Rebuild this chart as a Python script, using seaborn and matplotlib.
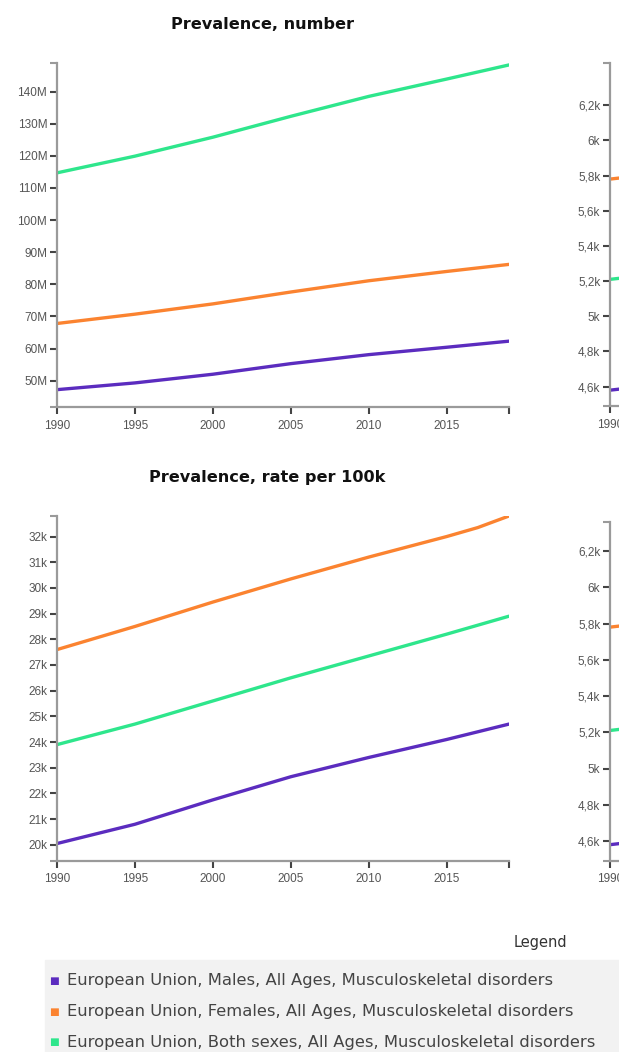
import pandas as pd
import numpy as np
import matplotlib
matplotlib.use("Agg")
import matplotlib.pyplot as plt
import seaborn as sns
from matplotlib.ticker import FuncFormatter

years = [1990, 1995, 2000, 2005, 2010, 2015, 2019]
series_names = ["European Union, Males, All Ages, Musculoskeletal disorders",
                "European Union, Females, All Ages, Musculoskeletal disorders",
                "European Union, Both sexes, All Ages, Musculoskeletal disorders"]
colors = ["#5b2cbf", "#fb8330", "#2ee68c"]

# Prevalence, number (millions)
number_males = [47.2, 49.3, 52.0, 55.3, 58.1, 60.4, 62.3]
number_females = [67.8, 70.7, 73.9, 77.6, 81.1, 84.0, 86.2]
number_both = [114.7, 119.9, 125.8, 132.3, 138.5, 143.9, 148.3]

# Prevalence, rate per 100k (thousands)
rate_years = [1990, 1995, 2000, 2005, 2010, 2015, 2017, 2019]
rate_males = [20.05, 20.8, 21.75, 22.65, 23.4, 24.1, 24.4, 24.7]
rate_females = [27.6, 28.5, 29.45, 30.35, 31.2, 32.0, 32.35, 32.8]
rate_both = [23.9, 24.7, 25.6, 26.5, 27.35, 28.2, 28.55, 28.9]

# third (cut off) chart, only the 1990 start is visible
side_years = [1990, 1991]
side_males = [4.58, 4.59]
side_females = [5.78, 5.79]
side_both = [5.21, 5.22]


def long_df(xs, vals):
    rows = []
    for name, v in zip(series_names, vals):
        for x, y in zip(xs, v):
            rows.append({"year": x, "value": y, "series": name})
    return pd.DataFrame(rows)


df_num = long_df(years, [number_males, number_females, number_both])
df_rate = long_df(rate_years, [rate_males, rate_females, rate_both])
df_side = long_df(side_years, [side_males, side_females, side_both])

sns.set_style("white")
plt.rcParams['font.family'] = ['Liberation Sans', 'DejaVu Sans']

W, H = 619, 1052
fig = plt.figure(figsize=(W / 100, H / 100), dpi=100)


def px_axes(left, top, right, bottom):
    return fig.add_axes([left / W, 1 - bottom / H, (right - left) / W, (bottom - top) / H])


def style_axis(ax, xlim, ylim, yticks, fmt, xticks):
    ax.set_xlim(*xlim)
    ax.set_ylim(*ylim)
    ax.set_yticks(yticks)
    ax.set_xticks(xticks)
    ax.set_xticklabels([str(t) for t in xticks])
    ax.yaxis.set_major_formatter(FuncFormatter(fmt))
    ax.set_yticks([ylim[0], ylim[1]], minor=True)
    ax.set_xticks([xlim[1]], minor=True)
    for s in ["top", "right"]:
        ax.spines[s].set_visible(False)
    for s in ["left", "bottom"]:
        ax.spines[s].set_color("#9a9a9a")
        ax.spines[s].set_linewidth(1.6)
    ax.tick_params(which="both", left=True, bottom=True, length=5, width=1.5,
                   color="#444444", labelsize=8.5, labelcolor="#555555", pad=2,
                   direction="out")
    ax.tick_params(axis="x", which="both", pad=4)
    ax.tick_params(axis="y", which="minor", color="#9a9a9a")
    ax.set_xlabel("")
    ax.set_ylabel("")
    ax.set_facecolor("white")


fmt_m = lambda v, p: f"{int(round(v))}M"
fmt_k = lambda v, p: f"{int(round(v))}k"
fmt_side = lambda v, p: (f"{v:.1f}".replace(".0", "").replace(".", ",") + "k")

# top main chart
ax1 = px_axes(57, 63, 509, 407)
sns.lineplot(data=df_num, x="year", y="value", hue="series", palette=colors,
             linewidth=2.4, ax=ax1, legend=False)
style_axis(ax1, (1990, 2019), (41.8, 148.9), list(range(50, 141, 10)), fmt_m,
           [1990, 1995, 2000, 2005, 2010, 2015])
ax1.set_title("Prevalence, number", fontsize=11.6, fontweight="bold",
              family="DejaVu Sans", x=0.455, y=1.075, color="#111111")

# bottom main chart
ax2 = px_axes(57, 516, 509, 861)
sns.lineplot(data=df_rate, x="year", y="value", hue="series", palette=colors,
             linewidth=2.4, ax=ax2, legend=False)
style_axis(ax2, (1990, 2019), (19.37, 32.8), list(range(20, 33)), fmt_k,
           [1990, 1995, 2000, 2005, 2010, 2015])
ax2.set_title("Prevalence, rate per 100k", fontsize=11.6, fontweight="bold",
              family="DejaVu Sans", x=0.465, y=1.075, color="#111111")

# cut-off charts on the right
side_ticks = [4.6, 4.8, 5.0, 5.2, 5.4, 5.6, 5.8, 6.0, 6.2]
ax3 = px_axes(610, 63, 1062, 406)
sns.lineplot(data=df_side, x="year", y="value", hue="series", palette=colors,
             linewidth=2.4, ax=ax3, legend=False)
style_axis(ax3, (1990, 2019), (4.49, 6.44), side_ticks, fmt_side, [1990, 1995])

ax4 = px_axes(610, 522, 1062, 861)
sns.lineplot(data=df_side, x="year", y="value", hue="series", palette=colors,
             linewidth=2.4, ax=ax4, legend=False)
style_axis(ax4, (1990, 2019), (4.49, 6.36), side_ticks, fmt_side, [1990, 1995])

# legend block
fig.text(540 / W, 1 - 943 / H, "Legend", ha="center", va="center", fontsize=10.5,
         color="#333333", family="DejaVu Sans")
fig.patches.append(plt.Rectangle((45 / W, 0), 1 - 45 / W, 1 - 960 / H,
                                 transform=fig.transFigure, color="#f2f2f2", zorder=0))
for i, (name, c) in enumerate(zip(series_names, colors)):
    yy = 1 - (981 + 30.5 * i) / H
    fig.text(54 / W, yy, "\u25a0", ha="center", va="center", fontsize=7.5, color=c,
             family="DejaVu Sans")
    fig.text(67 / W, yy, name, ha="left", va="center", fontsize=11.8, color="#444444",
             family="DejaVu Sans")

fig.savefig("out.png", dpi=100)
